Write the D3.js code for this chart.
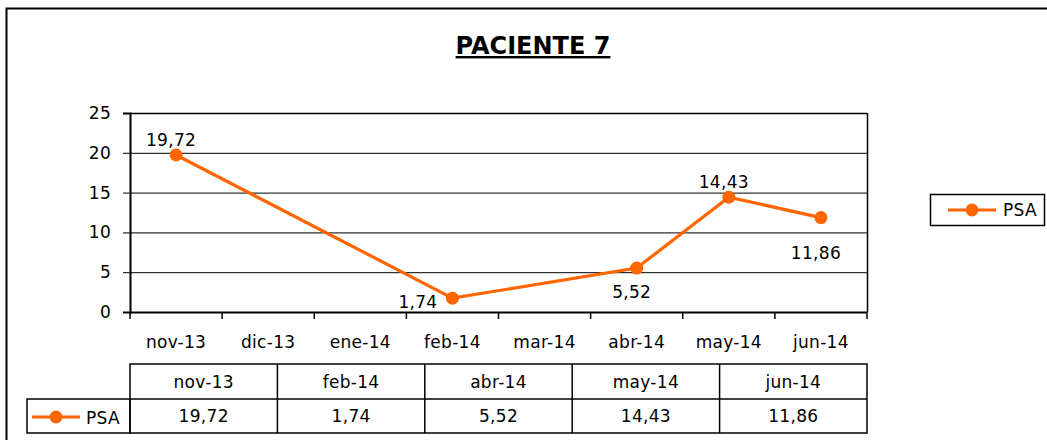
<!DOCTYPE html>
<html lang="es">
<head>
<meta charset="UTF-8">
<title>Paciente 7</title>
<script src="https://d3js.org/d3.v7.min.js"></script>
<style>
    body{ margin:0; background:#fff; }
    text{ font-family: "DejaVu Sans", Verdana, sans-serif; fill:#000; }
    .lbl{ font-size:17px; letter-spacing:0.3px; }
    .title{ font-size:24px; font-weight:bold; text-decoration: underline; }
</style>
</head>
<body>
<svg width="1047" height="440"></svg>
<script>
    // months on the category axis
    const months = ["nov-13","dic-13","ene-14","feb-14","mar-14","abr-14","may-14","jun-14"]
    // measured dates and PSA values
    const dates = ["nov-13","feb-14","abr-14","may-14","jun-14"]
    const psa = [19.72, 1.74, 5.52, 14.43, 11.86]
    // where Excel put each data label
    const labelPos = ["above","left","below","above","below"]
    const yTicks = [0,5,10,15,20,25]

    const fmt = v => String(v).replace(".", ",")
    const orange = "#FF6600"

    let svg = d3.select("svg")

    // outer chart border (top and left only visible)
    svg.append("path")
        .attr("d", "M6.5,440 L6.5,8.5 L1047,8.5")
        .attr("fill","none").attr("stroke","#000").attr("stroke-width",2)

    svg.append("text").attr("class","title")
        .attr("x",533).attr("y",54).attr("text-anchor","middle")
        .text("PACIENTE 7")

    let pLeft = 130, pRight = 867, pTop = 113, pBottom = 312

    let x = d3.scaleBand().domain(months).range([pLeft,pRight])
    let y = d3.scaleLinear().domain([0,25]).range([pBottom,pTop])

    // gridlines
    svg.append("g").selectAll("line").data(yTicks).enter().append("line")
        .attr("x1",pLeft).attr("x2",pRight)
        .attr("y1",d => y(d)+0.5).attr("y2",d => y(d)+0.5)
        .attr("stroke","#000").attr("stroke-width",d => d == 25 ? 1.6 : 1)

    // plot frame right edge
    svg.append("line").attr("x1",pRight+0.5).attr("x2",pRight+0.5)
        .attr("y1",pTop).attr("y2",pBottom).attr("stroke","#000").attr("stroke-width",1.5)

    // y axis
    let yAxis = svg.append("g").attr("transform",`translate(${pLeft},0)`)
        .call(d3.axisLeft(y).tickValues(yTicks).tickSize(7).tickPadding(12))
    yAxis.select(".domain").attr("stroke-width",2)
    yAxis.selectAll("text").attr("class","lbl").attr("font-family",null).attr("font-size",null)

    // x axis ticks at category boundaries
    let xAxis = svg.append("g").attr("transform",`translate(0,${pBottom})`)
    xAxis.append("line").attr("x1",pLeft).attr("x2",pRight).attr("y1",0.5).attr("y2",0.5)
        .attr("stroke","#000").attr("stroke-width",2)
    xAxis.selectAll(".tk").data(months.concat(["end"])).enter().append("line")
        .attr("x1",(d,i) => pLeft + i*x.step()).attr("x2",(d,i) => pLeft + i*x.step())
        .attr("y1",0).attr("y2",7).attr("stroke","#000").attr("stroke-width",1.5)
    xAxis.selectAll("text").data(months).enter().append("text").attr("class","lbl")
        .attr("x",d => x(d)+x.bandwidth()/2).attr("y",36).attr("text-anchor","middle")
        .text(d => d)

    // line series
    let pts = dates.map((d,i) => ({d:d, v:psa[i], pos:labelPos[i]}))
    let line = d3.line().x(p => x(p.d)+x.bandwidth()/2).y(p => y(p.v))
    svg.append("path").datum(pts).attr("d",line)
        .attr("fill","none").attr("stroke",orange).attr("stroke-width",3.2)
    svg.append("g").selectAll("circle").data(pts).enter().append("circle")
        .attr("cx",p => x(p.d)+x.bandwidth()/2).attr("cy",p => y(p.v)).attr("r",6.5)
        .attr("fill",orange)

    // data labels
    svg.append("g").selectAll("text").data(pts).enter().append("text").attr("class","lbl")
        .attr("x",p => {
            let cx = x(p.d)+x.bandwidth()/2
            return p.pos == "left" ? cx-15 : cx-5
        })
        .attr("y",p => {
            let cy = y(p.v)
            if (p.pos == "above") return cy-9
            if (p.pos == "left") return cy+10
            return p.d == "jun-14" ? cy+41 : cy+30
        })
        .attr("text-anchor",p => p.pos == "left" ? "end" : "middle")
        .text(p => fmt(p.v))

    // data table
    let colW = (pRight-pLeft)/dates.length
    let t1 = 364, t2 = 399, t3 = 433
    let tbl = svg.append("g").attr("stroke","#000").attr("stroke-width",1.5).attr("fill","none")
    tbl.append("rect").attr("x",pLeft).attr("y",t1).attr("width",pRight-pLeft).attr("height",t3-t1)
    tbl.append("rect").attr("x",27).attr("y",t2).attr("width",pLeft-27).attr("height",t3-t2)
    tbl.append("line").attr("x1",pLeft).attr("x2",pRight).attr("y1",t2).attr("y2",t2)
    tbl.selectAll(".col").data(dates.slice(1)).enter().append("line")
        .attr("x1",(d,i) => pLeft+(i+1)*colW).attr("x2",(d,i) => pLeft+(i+1)*colW)
        .attr("y1",t1).attr("y2",t3)
    svg.append("g").selectAll("text").data(dates).enter().append("text").attr("class","lbl")
        .attr("x",(d,i) => pLeft+(i+0.5)*colW).attr("y",t1+24).attr("text-anchor","middle")
        .text(d => d)
    svg.append("g").selectAll("text").data(psa).enter().append("text").attr("class","lbl")
        .attr("x",(d,i) => pLeft+(i+0.5)*colW).attr("y",t2+23).attr("text-anchor","middle")
        .text(d => fmt(d))

    // legend key helper
    function key(g, x0, yc) {
        g.append("line").attr("x1",x0).attr("x2",x0+48).attr("y1",yc).attr("y2",yc)
            .attr("stroke",orange).attr("stroke-width",3)
        g.append("circle").attr("cx",x0+24).attr("cy",yc).attr("r",6.5).attr("fill",orange)
    }
    let tk = svg.append("g")
    key(tk, 32, t2+18)
    tk.append("text").attr("class","lbl").attr("x",86).attr("y",t2+25).text("PSA")

    // legend box
    let lg = svg.append("g")
    lg.append("rect").attr("x",930.5).attr("y",194.5).attr("width",114).attr("height",31)
        .attr("fill","none").attr("stroke","#000").attr("stroke-width",1.5)
    key(lg, 948, 210)
    lg.append("text").attr("class","lbl").attr("x",1003).attr("y",216).attr("font-size","15px").text("PSA")
</script>
</body>
</html>
